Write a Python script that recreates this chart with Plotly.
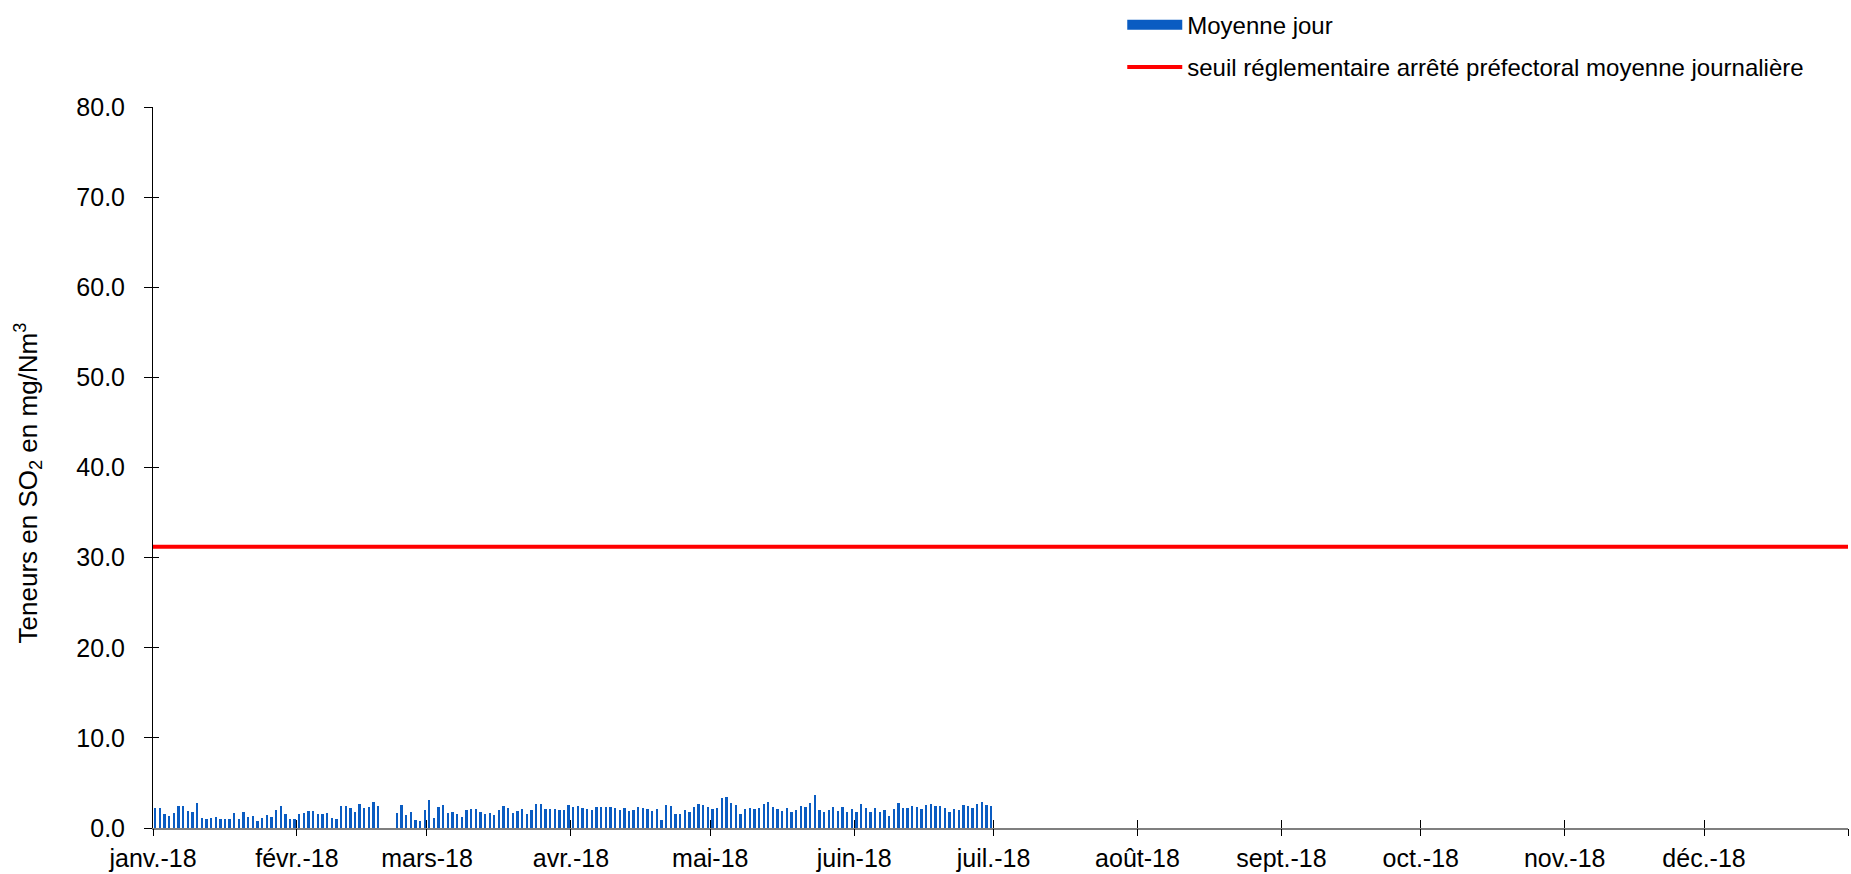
import plotly.graph_objects as go
import pandas as pd

# Daily mean SO2 (mg/Nm3), from 2018-01-01; None = no data
moyenne_jour = [
    2.19, 2.26, 1.56, 1.30, 1.63, 2.41, 2.41, 1.85, 1.78, 2.74,
    1.15, 0.96, 1.15, 1.19, 0.96, 1.04, 1.00, 1.63, 1.00, 1.74,
    1.19, 1.37, 0.78, 1.07, 1.48, 1.19, 2.00, 2.48, 1.56, 1.00,
    1.04, 1.52, 1.70, 1.85, 1.85, 1.52, 1.59, 1.70, 1.07, 0.96,
    2.48, 2.41, 2.19, 1.78, 2.63, 2.19, 2.37, 2.85, 2.41, None,
    None, None, 1.70, 2.52, 1.44, 1.78, 0.85, 0.81, 1.96, 3.15,
    1.07, 2.30, 2.52, 1.63, 1.81, 1.52, 1.19, 1.96, 2.07, 2.07,
    1.74, 1.59, 1.67, 1.41, 1.96, 2.41, 2.19, 1.70, 1.85, 2.07,
    1.52, 1.96, 2.67, 2.63, 2.15, 2.07, 2.15, 2.00, 1.96, 2.56,
    2.30, 2.48, 2.22, 2.07, 2.00, 2.33, 2.37, 2.33, 2.30, 2.19,
    2.04, 2.26, 1.93, 2.04, 2.37, 2.22, 2.15, 1.89, 2.07, 0.85,
    2.52, 2.44, 1.56, 1.59, 2.00, 1.78, 2.33, 2.67, 2.56, 2.33,
    2.07, 2.19, 3.37, 3.41, 2.81, 2.59, 1.52, 2.15, 2.22, 2.15,
    2.19, 2.63, 2.89, 2.37, 2.11, 1.89, 2.26, 1.81, 1.96, 2.48,
    2.37, 2.74, 3.67, 2.04, 1.81, 2.04, 2.33, 1.85, 2.37, 1.81,
    2.15, 1.74, 2.63, 2.19, 1.81, 2.26, 1.81, 1.96, 1.33, 2.15,
    2.74, 2.26, 2.22, 2.48, 2.37, 2.07, 2.56, 2.67, 2.41, 2.41,
    2.26, 1.74, 2.15, 2.04, 2.59, 2.44, 2.26, 2.63, 2.93, 2.56,
    2.44,
]
jours = pd.date_range("2018-01-01", periods=len(moyenne_jour), freq="D")

seuil_dates = ["2018-01-01", "2019-01-01"]
seuil_valeurs = [31.2, 31.2]

mois_ticks = [
    "2018-01-01", "2018-02-01", "2018-03-01", "2018-04-01", "2018-05-01",
    "2018-06-01", "2018-07-01", "2018-08-01", "2018-09-01", "2018-10-01",
    "2018-11-01", "2018-12-01",
]
mois_labels = [
    "janv.-18", "févr.-18", "mars-18", "avr.-18", "mai-18", "juin-18",
    "juil.-18", "août-18", "sept.-18", "oct.-18", "nov.-18", "déc.-18",
]
bornes_ticks = mois_ticks + ["2019-01-01"]
y_ticks = [0, 10, 20, 30, 40, 50, 60, 70, 80]

FONT = "Liberation Sans, Arial, sans-serif"
BLUE = "#0A5CC2"
x_range = ["2018-01-01", "2019-01-01"]
y_range = [0, 80]

fig = go.Figure()
fig.add_trace(go.Bar(
    x=jours, y=moyenne_jour, name="Moyenne jour", showlegend=False,
    marker=dict(color=BLUE, line=dict(width=0)),
    xperiod=86400000, xperiodalignment="middle",
    width=0.5 * 86400000,
))
# legend entry for the bars (wide rectangle key like the reference)
fig.add_trace(go.Scatter(
    x=[None], y=[None], mode="lines", name="Moyenne jour",
    line=dict(color=BLUE, width=11), legendgroup="a",
))
fig.add_trace(go.Scatter(
    x=seuil_dates, y=seuil_valeurs, mode="lines",
    name="seuil réglementaire arrêté préfectoral moyenne journalière",
    line=dict(color="#FF0000", width=4), legendgroup="b",
))
# hosts for the overlay axes (crossing tick marks)
fig.add_trace(go.Scatter(x=[None], y=[None], xaxis="x2", yaxis="y2",
                         showlegend=False, hoverinfo="skip"))
fig.add_trace(go.Scatter(x=[None], y=[None], xaxis="x3", yaxis="y2",
                         showlegend=False, hoverinfo="skip"))

fig.update_layout(
    width=1851, height=874,
    paper_bgcolor="white", plot_bgcolor="white",
    margin=dict(l=153, r=3, t=107, b=46, autoexpand=False),
    font=dict(family=FONT, size=24, color="#000000"),
    bargap=0,
    showlegend=True,
    legend=dict(
        xref="container", yref="container",
        x=0.6063, y=0.997, xanchor="left", yanchor="top",
        font=dict(family=FONT, size=24, color="#000000"),
        itemwidth=55, tracegroupgap=8, traceorder="grouped",
        bgcolor="rgba(0,0,0,0)",
    ),
    xaxis=dict(
        type="date", range=x_range, automargin=False,
        tickmode="array", tickvals=mois_ticks, ticktext=mois_labels,
        ticks="", ticklen=7,
        showline=True, linecolor="#7F7F7F", linewidth=2,
        showgrid=False, zeroline=False,
        tickfont=dict(family=FONT, size=25),
        ticklabelstandoff=7,
    ),
    yaxis=dict(
        range=y_range, tickmode="array", tickvals=y_ticks, automargin=False,
        tickformat=".1f",
        ticks="outside", ticklen=8, tickcolor="#000000", tickwidth=1,
        showline=True, linecolor="#000000", linewidth=1,
        showgrid=False, zeroline=False,
        tickfont=dict(family=FONT, size=25),
        ticklabelstandoff=14,
    ),
    xaxis2=dict(
        type="date", range=x_range, overlaying="x", anchor="y2",
        automargin=False,
        tickmode="array", tickvals=bornes_ticks, showticklabels=False,
        ticks="inside", ticklen=8, tickcolor="#000000", tickwidth=1,
        showline=False, showgrid=False, zeroline=False,
    ),
    xaxis3=dict(
        type="date", range=x_range, overlaying="x", anchor="y2",
        automargin=False,
        tickmode="array", tickvals=bornes_ticks, showticklabels=False,
        ticks="outside", ticklen=7, tickcolor="#000000", tickwidth=1,
        showline=False, showgrid=False, zeroline=False,
    ),
    yaxis2=dict(
        range=y_range, overlaying="y", anchor="x", side="left",
        automargin=False,
        tickmode="array", tickvals=y_ticks, showticklabels=False,
        ticks="inside", ticklen=6, tickcolor="#000000", tickwidth=1,
        showline=False, showgrid=False, zeroline=False,
    ),
    annotations=[dict(
        text="Teneurs en SO<sub>2</sub> en mg/Nm<sup>3</sup>",
        xref="paper", yref="paper", x=-0.0737, y=0.478,
        xanchor="center", yanchor="middle", textangle=-90,
        showarrow=False, font=dict(family=FONT, size=26, color="#000000"),
    )],
)

fig.write_html(
    "out.html",
    config={"displayModeBar": False},
    post_script="document.body.style.margin='0';"
                "document.body.style.overflow='hidden';",
)
